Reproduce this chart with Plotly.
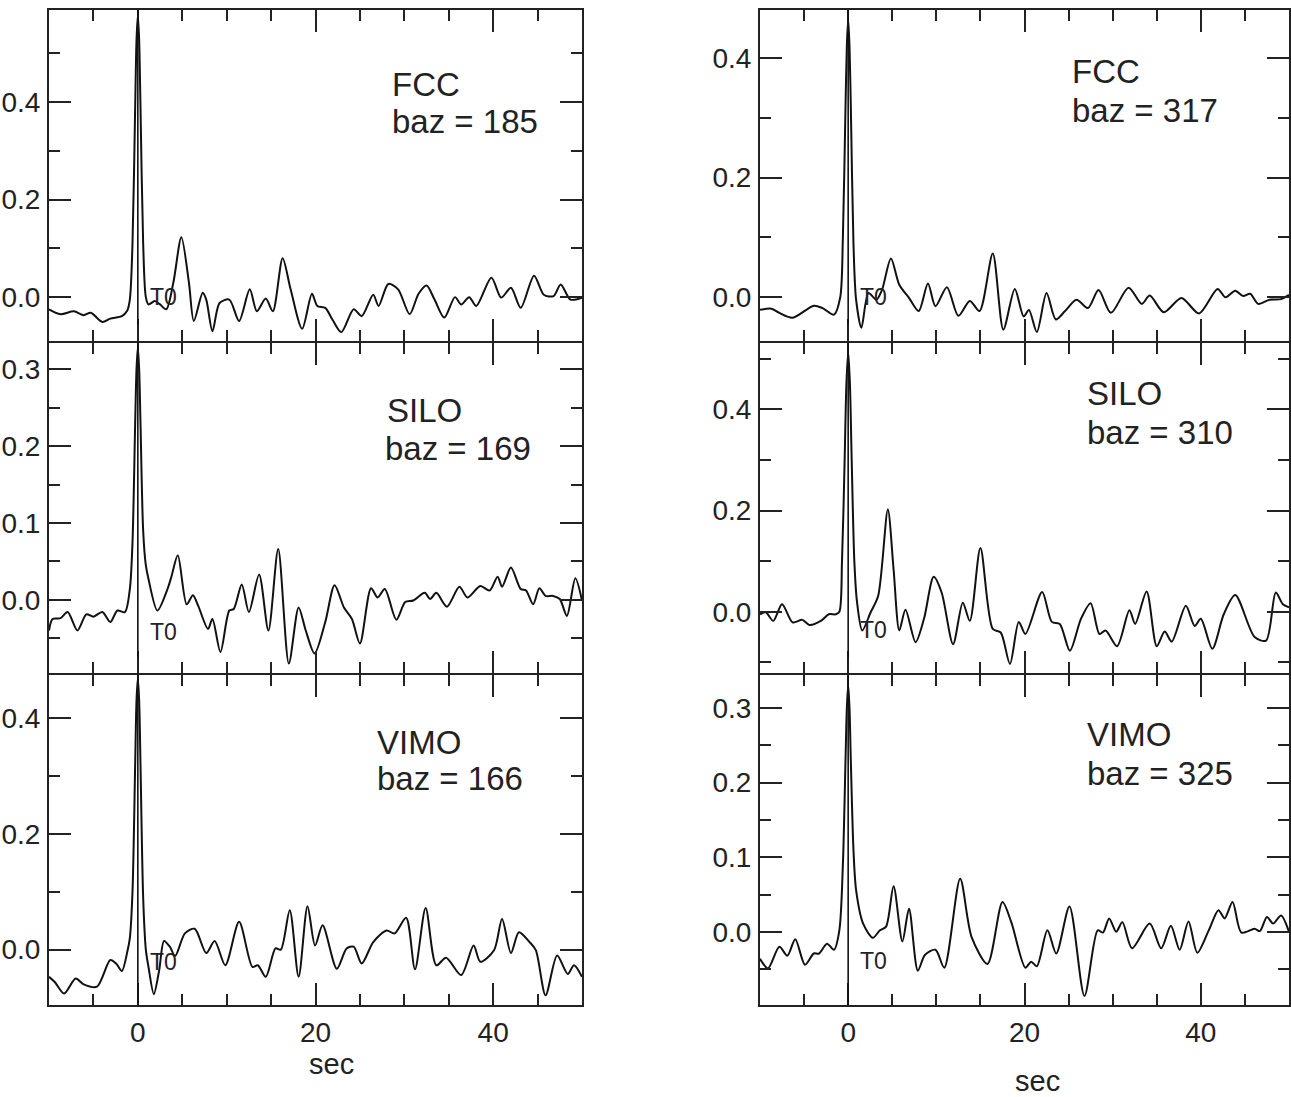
import plotly.graph_objects as go

W, H = 1291, 1097

# ---------------- data ----------------
stations = ["FCC", "SILO", "VIMO"]
baz_left = [185, 169, 166]
baz_right = [317, 310, 325]

t_fcc_185 = [-10, -8.7, -7.2, -6.1, -5.3, -4.0, -3.1, -1.8, -1.2, -0.9, -0.6, -0.3, -0.15, 0, 0.15, 0.3, 0.6, 0.9, 1.2,
             1.9, 2.5, 3.2, 4.0, 4.9, 5.75, 6.3, 7.3, 7.7, 8.4, 9.2, 10.3, 11.4, 12.6, 13.4, 14.4, 15.2, 16.3, 17.2,
             18.5, 19.6, 20.2, 21.1, 21.9, 22.9, 24.3, 25.2, 26.5, 27.1, 28.2, 29.3, 30.6, 31.6, 32.5, 33.4, 34.5,
             35.7, 36.4, 37.3, 38.1, 39.8, 40.9, 42.0, 43.1, 44.6, 45.7, 46.8, 47.6, 48.7, 50]
a_fcc_185 = [-0.025, -0.035, -0.029, -0.037, -0.032, -0.051, -0.044, -0.039, -0.028, -0.005, 0.11, 0.39, 0.526, 0.578,
             0.526, 0.39, 0.11, 0.0, -0.015, -0.008, -0.015, -0.025, 0.03, 0.123, 0.03, -0.049, 0.009, -0.005, -0.07,
             -0.012, -0.005, -0.049, 0.016, -0.029, -0.003, -0.029, 0.08, 0.016, -0.065, 0.007, -0.018, -0.022, -0.046,
             -0.072, -0.025, -0.039, 0.005, -0.018, 0.027, 0.016, -0.035, 0.007, 0.024, -0.005, -0.042, 0.0, -0.015,
             0.0, -0.018, 0.04, -0.001, 0.019, -0.022, 0.044, 0.005, 0.002, 0.026, -0.005, -0.001]

t_silo_169 = [-10, -9.6, -8.7, -7.9, -6.8, -5.8, -5.0, -4.0, -3.1, -2.3, -1.45, -0.9, -0.6, -0.3, -0.15, 0, 0.15, 0.3,
              0.6, 0.9, 1.2, 2.2, 3.4, 3.8, 4.5, 5.5, 6.2, 6.8, 7.9, 8.4, 9.3, 10.3, 10.8, 11.7, 12.5, 13.65, 14.7,
              15.8, 17.0, 18.1, 18.9, 19.9, 21.1, 22.15, 23.2, 24.1, 25.0, 26.25, 27.0, 27.8, 29.1, 30.1, 31.0, 32.3,
              32.9, 33.6, 34.8, 36.2, 37.1, 38.55, 39.6, 40.5, 41.0, 42.0, 43.1, 43.7, 44.5, 45.2, 45.9, 46.75, 47.5,
              48.3, 49.25, 50]
a_silo_169 = [-0.04, -0.025, -0.024, -0.016, -0.04, -0.019, -0.022, -0.016, -0.029, -0.014, -0.016, 0.014, 0.075,
              0.23, 0.30, 0.329, 0.30, 0.23, 0.09, 0.045, 0.027, -0.014, 0.016, 0.031, 0.058, -0.006, 0.006, -0.008,
              -0.038, -0.025, -0.068, -0.014, -0.012, 0.02, -0.016, 0.033, -0.04, 0.066, -0.083, -0.01, -0.04, -0.07,
              -0.029, 0.019, -0.01, -0.025, -0.057, 0.015, 0.003, 0.014, -0.026, -0.003, -0.001, 0.009, 0.001, 0.009,
              -0.009, 0.017, 0.003, 0.018, 0.012, 0.03, 0.017, 0.042, 0.014, 0.012, -0.006, 0.015, 0.005, 0.005,
              0.001, -0.021, 0.028, -0.001]

t_vimo_166 = [-10, -9.35, -8.3, -7.0, -6.1, -4.6, -3.1, -2.45, -1.8, -1.15, -0.9, -0.6, -0.3, -0.15, 0, 0.15, 0.3,
              0.6, 0.9, 1.2, 1.8, 2.4, 2.95, 3.6, 4.2, 5.3, 6.4, 7.7, 8.65, 9.85, 11.4, 12.9, 13.5, 14.4, 15.5, 16.1,
              17.1, 18.1, 19.1, 19.95, 20.8, 22.4, 23.5, 24.3, 25.2, 26.5, 28.0, 28.9, 30.2, 31.2, 32.4, 33.6, 34.7,
              36.4, 37.8, 38.55, 40.1, 41.0, 42.0, 42.9, 44.1, 44.8, 45.9, 47.2, 48.4, 49.1, 50]
a_vimo_166 = [-0.047, -0.056, -0.076, -0.05, -0.06, -0.064, -0.018, -0.024, -0.037, -0.001, 0.02, 0.1, 0.32, 0.43,
              0.469, 0.43, 0.32, 0.09, 0.0, -0.03, -0.077, -0.036, 0.015, 0.005, -0.011, 0.028, 0.036, -0.006, 0.015,
              -0.027, 0.048, -0.03, -0.027, -0.047, 0.002, 0.0, 0.068, -0.047, 0.075, 0.007, 0.042, -0.033, 0.002,
              0.005, -0.024, 0.013, 0.033, 0.028, 0.055, -0.034, 0.072, -0.027, -0.014, -0.044, 0.007, -0.021, -0.001,
              0.053, -0.006, 0.03, 0.013, -0.001, -0.079, -0.01, -0.042, -0.027, -0.047]

t_fcc_317 = [-10, -8.7, -7.8, -6.3, -3.9, -2.9, -1.6, -0.9, -0.6, -0.3, -0.15, 0, 0.15, 0.3, 0.6, 0.9, 1.5, 2.3, 3.2,
             3.85, 4.85, 5.8, 6.9, 8.0, 9.05, 9.9, 11.2, 12.5, 13.8, 14.9, 16.4, 17.6, 18.9, 19.9, 20.5, 21.4, 22.5,
             23.55, 24.6, 25.9, 27.2, 28.4, 29.8, 31.8, 33.3, 34.2, 35.8, 37.8, 39.8, 41.9, 42.8, 43.9, 44.8, 45.6,
             46.5, 47.8, 49.1, 50]
a_fcc_317 = [-0.021, -0.019, -0.026, -0.034, -0.014, -0.018, -0.029, 0.0, 0.1, 0.32, 0.42, 0.465, 0.42, 0.32, 0.09,
             -0.004, -0.051, 0.007, -0.004, 0.013, 0.065, 0.021, -0.001, -0.023, 0.023, -0.015, 0.017, -0.031, -0.006,
             -0.023, 0.073, -0.054, 0.014, -0.032, -0.021, -0.058, 0.007, -0.037, -0.023, -0.004, -0.018, 0.012,
             -0.026, 0.016, -0.011, 0.003, -0.025, -0.001, -0.027, 0.014, 0.0, 0.011, 0.002, 0.006, -0.011, -0.004,
             -0.003, 0.004]

t_silo_310 = [-10, -9.35, -8.5, -7.5, -6.3, -5.2, -4.4, -3.1, -2.2, -1.4, -1.0, -0.7, -0.4, -0.2, 0, 0.2, 0.4, 0.7,
              1.0, 1.6, 2.55, 3.4, 4.5, 5.15, 5.8, 6.5, 7.65, 8.6, 9.7, 10.6, 11.9, 13.0, 13.8, 15.0, 16.4, 17.3,
              18.35, 19.35, 20.1, 22.0, 23.1, 24.0, 25.15, 26.4, 27.5, 28.5, 29.2, 30.5, 31.9, 32.55, 33.85, 35.0,
              35.9, 36.7, 38.3, 39.3, 40.0, 41.3, 42.6, 43.9, 46.1, 47.4, 48.5, 49.3, 50]
a_silo_310 = [-0.005, -0.001, -0.018, 0.015, -0.021, -0.016, -0.026, -0.018, -0.005, -0.005, 0.0, 0.1, 0.3, 0.45,
              0.513, 0.45, 0.3, 0.1, 0.02, -0.037, -0.001, 0.031, 0.202, 0.084, -0.037, 0.004, -0.06, -0.014, 0.069,
              0.038, -0.064, 0.018, -0.018, 0.126, -0.034, -0.041, -0.103, -0.02, -0.044, 0.039, -0.02, -0.024,
              -0.077, -0.014, 0.017, -0.044, -0.037, -0.068, 0.003, -0.024, 0.04, -0.068, -0.039, -0.059, 0.012,
              -0.028, -0.014, -0.073, -0.005, 0.033, -0.05, -0.057, 0.038, 0.015, 0.009]

t_vimo_325 = [-10, -9.1, -7.8, -6.9, -6.0, -4.9, -3.9, -3.3, -2.4, -1.6, -1.0, -0.6, -0.3, -0.15, 0, 0.15, 0.3, 0.6,
              0.9, 1.7, 2.8, 3.6, 4.3, 5.15, 6.15, 6.9, 7.9, 8.7, 9.9, 10.9, 12.7, 14.0, 15.8, 17.5, 18.5, 20.1, 20.75,
              21.4, 22.6, 23.6, 25.1, 26.8, 28.3, 28.9, 29.6, 30.4, 31.1, 32.2, 34.2, 35.5, 36.6, 37.6, 38.6, 39.6,
              40.9, 42.0, 42.7, 43.6, 44.6, 46.1, 46.7, 47.5, 48.2, 49.1, 50]
a_vimo_325 = [-0.036, -0.049, -0.02, -0.032, -0.01, -0.044, -0.029, -0.029, -0.016, -0.024, 0.002, 0.09, 0.23, 0.3,
              0.331, 0.3, 0.23, 0.11, 0.056, 0.011, -0.008, 0.002, 0.007, 0.061, -0.013, 0.031, -0.052, -0.031,
              -0.024, -0.048, 0.071, -0.007, -0.043, 0.04, 0.013, -0.048, -0.04, -0.046, 0.002, -0.029, 0.034,
              -0.086, 0.002, -0.001, 0.018, 0.0, 0.013, -0.022, 0.011, -0.022, 0.008, -0.024, 0.014, -0.028, 0.002,
              0.029, 0.018, 0.04, -0.001, 0.004, 0.001, 0.02, 0.011, 0.022, 0.0]

x_range = [-10, 50]
x_ticks = [0, 20, 40]

# y-range, labelled-tick step, minor-tick step and T0 marker bottom for each panel
y_ranges = [[-0.09, 0.589], [-0.0954, 0.3345], [-0.0957, 0.4745],
            [-0.073, 0.48], [-0.121, 0.531], [-0.098, 0.344]]
y_dticks = [0.2, 0.1, 0.2, 0.2, 0.2, 0.1]
y_minor = [0.1, 0.05, 0.1, 0.1, 0.1, 0.05]
t0_bottom = [-0.056, -0.075, -0.0957, -0.045, -0.09, -0.098]

traces = [(t_fcc_185, a_fcc_185), (t_silo_169, a_silo_169), (t_vimo_166, a_vimo_166),
          (t_fcc_317, a_fcc_317), (t_silo_310, a_silo_310), (t_vimo_325, a_vimo_325)]

# ---------------- layout geometry (pixels) ----------------
LW = 2  # frame line width
col_x = [(49, 582), (760, 1289)]
# shared borders are offset by half a line width so the two frames draw on the same pixels
row_y = [(10, 342 - LW / 2), (342 + LW / 2, 674 - LW / 2), (674 + LW / 2, 1005)]

def px(x):
    return x / W

def py(y):
    return 1 - y / H

TICK_FONT = dict(family="Liberation Sans, Arial, sans-serif", size=28, color="#222")
LABEL_FONT = dict(family="Liberation Sans, Arial, sans-serif", size=33, color="#222")

fig = go.Figure()
layout = dict(width=W, height=H, margin=dict(l=0, r=0, t=0, b=0),
              paper_bgcolor="white", plot_bgcolor="white", showlegend=False)
shapes = []
annotations = []

for i in range(6):
    col = i // 3
    row = i % 3
    n = i + 1
    xa = "x" if n == 1 else f"x{n}"
    ya = "y" if n == 1 else f"y{n}"
    t, a = traces[i]
    fig.add_trace(go.Scatter(x=t, y=a, mode="lines", xaxis=xa, yaxis=ya,
                             line=dict(color="#111", width=2, shape="spline", smoothing=0.8),
                             hoverinfo="skip"))
    x0, x1 = col_x[col]
    y0, y1 = row_y[row]
    common = dict(showline=True, linecolor="#222", linewidth=LW, mirror="ticks", ticks="inside",
                  ticklen=22, tickwidth=1.8, tickcolor="#222", showgrid=False, zeroline=False,
                  tickfont=TICK_FONT)
    layout["xaxis" + ("" if n == 1 else str(n))] = dict(
        common, domain=[px(x0), px(x1)], range=x_range, anchor=ya,
        tickvals=x_ticks, ticktext=[str(v) for v in x_ticks],
        minor=dict(dtick=5, tick0=0, ticks="inside", ticklen=11, tickwidth=1.8, tickcolor="#222"),
        showticklabels=(row == 2), ticklabelstandoff=1)
    layout["yaxis" + ("" if n == 1 else str(n))] = dict(
        common, domain=[py(y1), py(y0)], range=y_ranges[i], anchor=xa,
        dtick=y_dticks[i], tick0=0, tickformat=".1f",
        minor=dict(dtick=y_minor[i], tick0=0, ticks="inside", ticklen=11, tickwidth=1.8, tickcolor="#222"),
        ticklabelstandoff=1)
    # T0 marker line
    shapes.append(dict(type="line", xref=xa, yref=ya, x0=0, x1=0, y0=t0_bottom[i], y1=y_ranges[i][1],
                       line=dict(color="#111", width=1.6)))
    # T0 text
    annotations.append(dict(text="T0", xref=xa, yref=ya, x=0, y=0, xanchor="left", yanchor="middle",
                            xshift=10, yshift=[0, -32, -12, 0, -18, -29][i], showarrow=False,
                            font=dict(TICK_FONT, size=23)))

# station labels
lab_pos = [((390, 85), (390, 122)), ((385, 410), (383, 448)), ((375, 742), (375, 778)),
           ((1070, 72), (1070, 110)), ((1085, 394), (1085, 432)), ((1085, 734), (1085, 773))]
for i in range(6):
    name = stations[i % 3]
    baz = baz_left[i % 3] if i < 3 else baz_right[i % 3]
    (sx, sy), (bx, by) = lab_pos[i]
    annotations.append(dict(text=name, xref="paper", yref="paper", x=px(sx), y=py(sy),
                            xanchor="left", yanchor="middle", showarrow=False, font=LABEL_FONT))
    annotations.append(dict(text=f"baz = {baz}", xref="paper", yref="paper", x=px(bx), y=py(by),
                            xanchor="left", yanchor="middle", showarrow=False, font=LABEL_FONT))

# x-axis titles
for (cx, cy) in [(331, 1064), (1037, 1081)]:
    annotations.append(dict(text="sec", xref="paper", yref="paper", x=px(cx), y=py(cy),
                            xanchor="center", yanchor="middle", showarrow=False,
                            font=dict(LABEL_FONT, size=29)))

layout["shapes"] = shapes
layout["annotations"] = annotations
fig.update_layout(**layout)
fig.write_html("out.html")
